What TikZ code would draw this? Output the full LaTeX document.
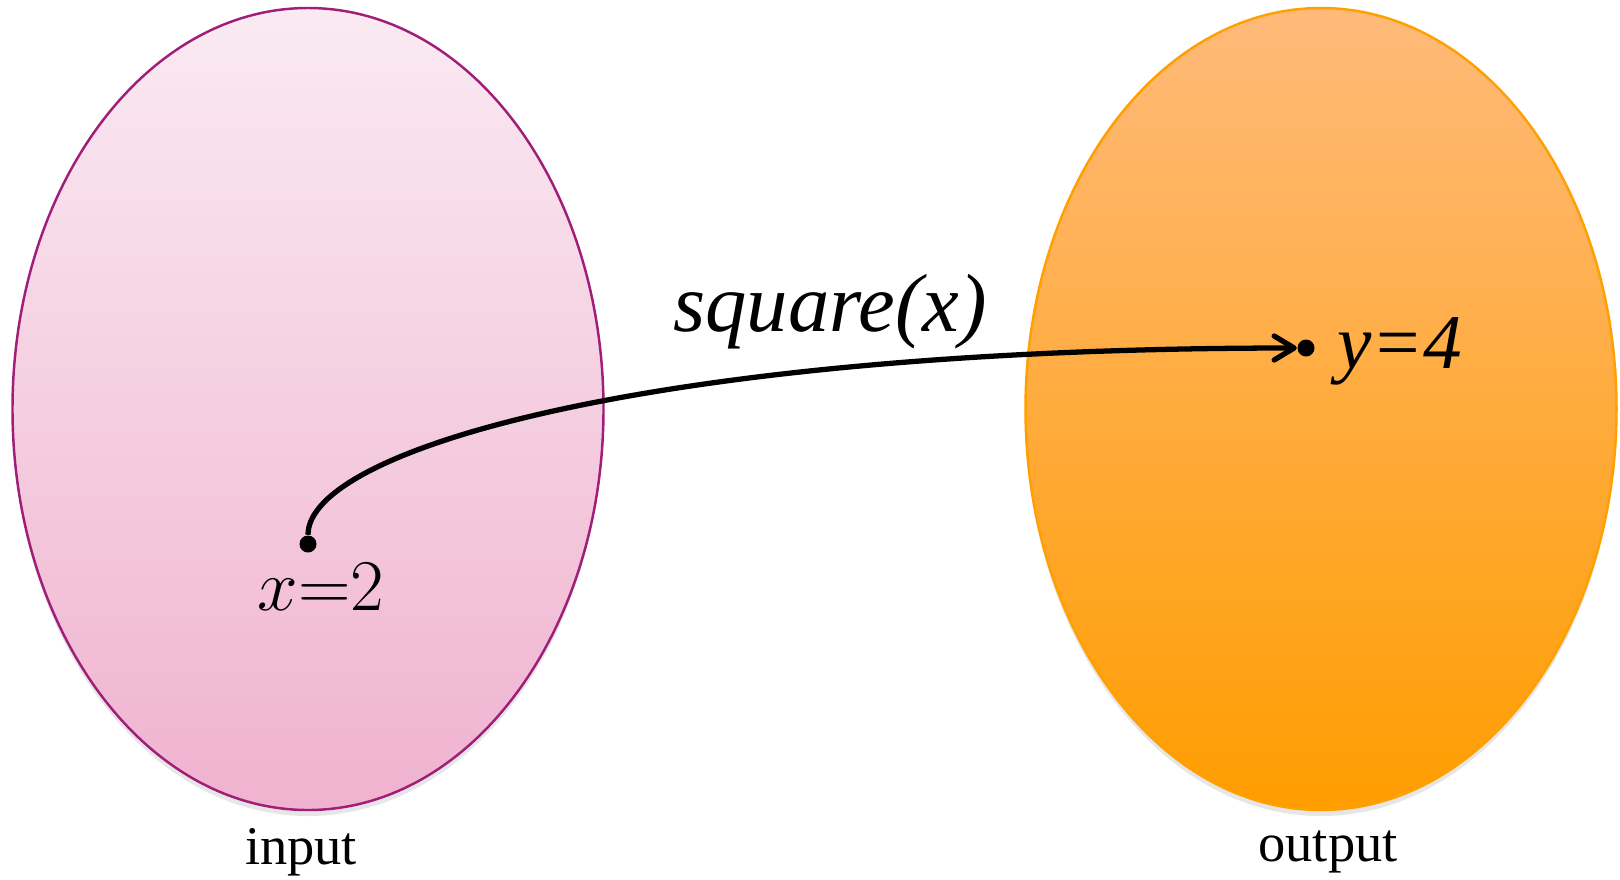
\documentclass[tikz,border=0pt]{standalone}
\usepackage[no-math]{fontspec}
\setmainfont{Liberation Serif}
\usetikzlibrary{shapes.geometric,arrows.meta,shadows}

\definecolor{pinktop}{RGB}{250,234,242}
\definecolor{pinkbot}{RGB}{240,178,207}
\definecolor{pinkline}{RGB}{160,30,120}
\definecolor{orangetop}{RGB}{255,186,122}
\definecolor{orangebot}{RGB}{255,157,0}
\definecolor{orangeline}{RGB}{255,160,0}

\begin{document}
\begin{tikzpicture}[scale=1.0, >={Straight Barb[length=2mm,width=2.4mm,round]},
    set/.style={ellipse, minimum width=5.91cm, minimum height=8.02cm, line width=0.7pt,
        drop shadow={shadow xshift=0pt, shadow yshift=-0.6mm, opacity=0.2}},
    elem/.style={circle, fill=black, inner sep=0pt, minimum size=0.17cm}]
    \useasboundingbox (0,0) rectangle (16.2,8.79);

    \node[set, draw=pinkline, top color=pinktop, bottom color=pinkbot] (inset) at (3.08,4.70) {};
    \node[set, draw=orangeline, top color=orangetop, bottom color=orangebot] (outset) at (13.21,4.70) {};

    \node[elem] (xin) at (3.08,3.35) {};
    \node[elem] (yout) at (13.06,5.31) {};

    \node[font=\fontsize{21}{25}\selectfont] (xlab) at (3.21,2.92) {\(x{=}2\)};
    \node[font=\fontsize{22}{26}\selectfont\itshape] (ylab) at (14.0,5.28) {y=4};
    \node[font=\fontsize{23.5}{28}\selectfont\itshape] (flab) at (8.30,5.67) {square(x)};

    \draw[->, line width=1.5pt] (xin) .. controls +(0,0.95) and +(-6.5,0) .. (yout);

    \node[font=\fontsize{15.5}{18}\selectfont] (inlab) at (3.01,0.27) {input};
    \node[font=\fontsize{15.5}{18}\selectfont] (outlab) at (13.28,0.27) {output};
\end{tikzpicture}
\end{document}
